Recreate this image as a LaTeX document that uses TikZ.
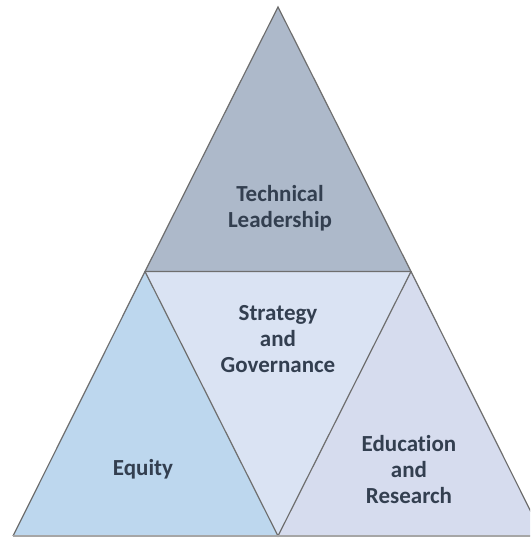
\documentclass[tikz,border=0pt]{standalone}
\usepackage{fontspec}
\setmainfont{Carlito}[Ligatures=NoCommon]
\definecolor{topc}{HTML}{ADB9CA}
\definecolor{leftc}{HTML}{BDD7EE}
\definecolor{midc}{HTML}{DAE3F3}
\definecolor{rightc}{HTML}{D6DCEE}
\definecolor{edgec}{HTML}{6E6E6E}
\definecolor{txtc}{HTML}{333F50}
\begin{document}
\begin{tikzpicture}[x=1pt,y=-1pt,
  tri/.style={draw=edgec,line width=1.2pt,line join=miter},
  lbl/.style={font=\bfseries\fontsize{23}{26}\selectfont,text=txtc,align=center}]
\useasboundingbox (0,0) rectangle (530,538);
\clip (0,0) rectangle (530,538);
\coordinate (A) at (278,7);
\coordinate (L) at (145,271.5);
\coordinate (R) at (411,271.5);
\coordinate (BL) at (13,536);
\coordinate (BM) at (278,536);
\coordinate (BR) at (543,536);
\fill[leftc] (L) -- (BM) -- (BL) -- cycle;
\fill[rightc] (R) -- (BR) -- (BM) -- cycle;
\fill[midc] (L) -- (R) -- (BM) -- cycle;
\fill[topc] (A) -- (R) -- (L) -- cycle;
\draw[tri] (A) -- (R) -- (L) -- cycle;
\draw[tri] (L) -- (BM) -- (R);
\draw[tri] (L) -- (BL);
\draw[tri] (R) -- (BR);
\draw[draw=gray!70,line width=2pt] (BL) -- (BR);
\node[lbl] (tech) at (280,208) {Technical\\Leadership};
\node[lbl] (strat) at (278,339) {Strategy\\and\\Governance};
\node[lbl] (eq) at (143,469) {Equity};
\node[lbl] (edu) at (409,470) {Education\\and\\Research};
\end{tikzpicture}
\end{document}
